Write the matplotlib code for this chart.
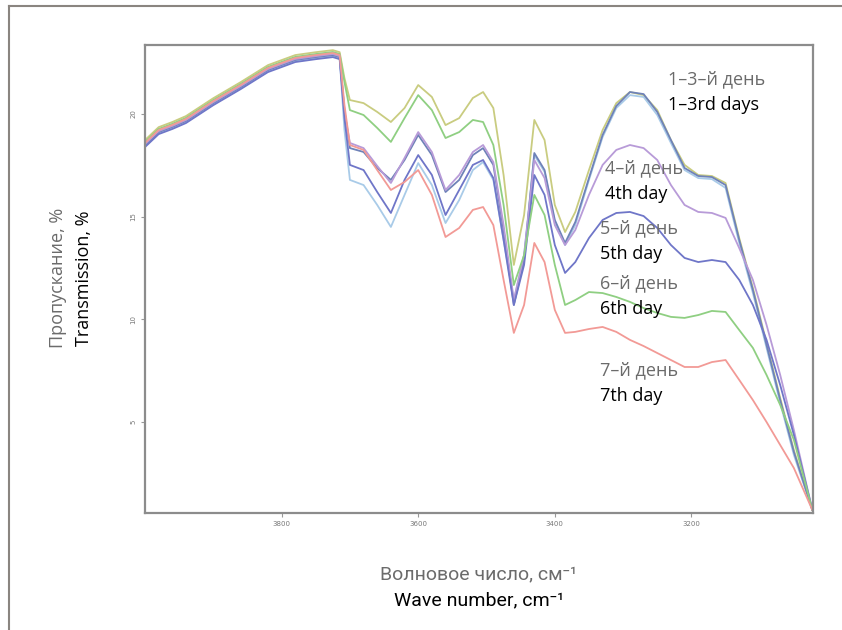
import matplotlib.pyplot as plt
from matplotlib.lines import Line2D

# wave number, cm-1
wavenumber = [4000, 3980, 3960, 3940, 3900, 3860, 3820, 3780, 3750, 3725, 3715, 3708,
              3700, 3680, 3660, 3640, 3620, 3600, 3580, 3560, 3540, 3520, 3505, 3490,
              3475, 3460, 3445, 3430, 3415, 3400, 3385, 3370, 3350, 3330, 3310, 3290,
              3270, 3250, 3230, 3210, 3190, 3170, 3150, 3130, 3110, 3090, 3070, 3050, 3023]

# transmission, %
day1 = [18.73, 19.36, 19.61, 19.90, 20.77, 21.55, 22.38, 22.87, 23.01, 23.11, 23.01,
        21.75, 20.68, 20.53, 20.10, 19.61, 20.29, 21.41, 20.83, 19.46, 19.80, 20.78, 21.07,
        20.29, 17.03, 12.65, 15.08, 19.71, 18.73, 15.57, 14.25, 15.23, 17.27, 19.22, 20.53,
        21.07, 20.92, 20.19, 18.73, 17.52, 17.03, 16.98, 16.64, 13.96, 11.53, 8.85, 6.17,
        3.64, 0.72]
day2 = [18.44, 19.07, 19.32, 19.61, 20.48, 21.26, 22.09, 22.58, 22.72, 22.82, 22.72,
        19.22, 16.79, 16.54, 15.57, 14.50, 16.06, 17.61, 16.54, 14.69, 15.81, 17.27, 17.66,
        16.79, 13.87, 10.94, 13.13, 18.00, 17.18, 14.74, 13.62, 14.59, 16.79, 18.88, 20.29,
        20.92, 20.83, 19.95, 18.59, 17.27, 16.88, 16.83, 16.40, 13.72, 11.28, 8.61, 5.93,
        3.40, 0.72]
day3 = [18.49, 19.12, 19.37, 19.66, 20.53, 21.31, 22.14, 22.63, 22.77, 22.87, 22.77,
        20.19, 18.34, 18.15, 17.37, 16.79, 17.76, 18.98, 18.00, 16.20, 16.79, 18.00, 18.34,
        17.52, 14.35, 10.70, 12.89, 18.10, 17.27, 14.84, 13.72, 14.74, 16.88, 18.98, 20.39,
        21.07, 20.97, 20.10, 18.73, 17.37, 16.98, 16.93, 16.54, 13.87, 11.43, 8.75, 6.07,
        3.54, 0.72]
day4 = [18.54, 19.17, 19.42, 19.71, 20.58, 21.36, 22.19, 22.68, 22.82, 22.92, 22.82,
        20.10, 18.59, 18.34, 17.47, 16.64, 17.86, 19.12, 18.15, 16.30, 17.03, 18.15, 18.49,
        17.66, 14.59, 10.94, 13.13, 17.76, 16.88, 14.59, 13.62, 14.35, 16.06, 17.52, 18.25,
        18.49, 18.34, 17.76, 16.54, 15.57, 15.23, 15.18, 14.94, 13.47, 11.92, 9.73, 7.29,
        4.61, 0.72]
day5 = [18.39, 19.02, 19.27, 19.56, 20.43, 21.21, 22.04, 22.53, 22.67, 22.77, 22.67,
        19.80, 17.52, 17.27, 16.20, 15.18, 16.79, 18.00, 17.03, 15.08, 16.30, 17.52, 17.76,
        16.88, 13.87, 10.70, 12.65, 17.03, 16.06, 13.62, 12.26, 12.79, 13.96, 14.84, 15.18,
        15.23, 15.03, 14.45, 13.62, 12.99, 12.79, 12.89, 12.79, 11.92, 10.70, 9.00, 6.80,
        4.37, 0.72]
day6 = [18.64, 19.27, 19.52, 19.81, 20.68, 21.46, 22.29, 22.78, 22.92, 23.02, 22.92,
        21.56, 20.19, 19.95, 19.32, 18.64, 19.80, 20.92, 20.19, 18.83, 19.12, 19.71, 19.61,
        18.49, 15.57, 11.67, 13.13, 16.06, 15.08, 12.65, 10.70, 10.94, 11.33, 11.28, 11.09,
        10.85, 10.55, 10.31, 10.12, 10.07, 10.21, 10.41, 10.36, 9.48, 8.61, 7.29, 5.83,
        4.13, 0.72]
day7 = [18.59, 19.22, 19.47, 19.76, 20.63, 21.41, 22.24, 22.73, 22.87, 22.97, 22.87,
        20.44, 18.49, 18.25, 17.27, 16.30, 16.69, 17.27, 16.06, 14.01, 14.45, 15.33, 15.47,
        14.59, 11.92, 9.34, 10.70, 13.72, 12.79, 10.46, 9.34, 9.39, 9.53, 9.63, 9.39,
        9.00, 8.70, 8.36, 8.02, 7.68, 7.68, 7.92, 8.02, 7.05, 6.07, 5.00, 3.88, 2.76, 0.72]

series = [day1, day2, day3, day4, day5, day6, day7]
colors = ['#c9cc80', '#a9cbe8', '#6f82b8', '#b89bd8', '#6f76c8', '#8fcf82', '#f29a96']

x_ticks = [3800, 3600, 3400, 3200]
y_ticks = [20, 15, 10, 5]

labels_ru = ['1–3–й день', '4–й день', '5–й день', '6–й день', '7–й день']
labels_en = ['1–3rd days', '4th day', '5th day', '6th day', '7th day']
label_pos = [(668, 79), (605, 168), (600, 228), (600, 283), (600, 370)]

W, H = 842, 630
fig = plt.figure(figsize=(W / 100, H / 100), dpi=100)
ax = fig.add_axes([145 / W, 1 - 513 / H, (813 - 145) / W, (513 - 45) / H])

for s, c in zip(series, colors):
    ax.plot(wavenumber, s, color=c, lw=1.3, solid_joinstyle='round')

ax.set_xlim(4000, 3022)
ax.set_ylim(0.57, 23.36)
ax.set_xticks(x_ticks)
ax.set_xticklabels([str(t) for t in x_ticks], fontsize=5, color='#777777')
ax.set_yticks(y_ticks)
ax.set_yticklabels([str(t) for t in y_ticks], fontsize=5, color='#777777', rotation=90, va='center')
ax.tick_params(length=3, width=0.8, color='#999999', pad=3)
for sp in ax.spines.values():
    sp.set_color('#8c8c8c')
    sp.set_linewidth(1.6)

# day labels
for (px, py), ru, en in zip(label_pos, labels_ru, labels_en):
    fig.text(px / W, 1 - py / H, ru, fontsize=13, color='#6b6b6b', family='Open Sans', va='center')
    fig.text(px / W, 1 - (py + 26) / H, en, fontsize=13, color='black', family='Open Sans', va='center')

# axis titles
fam = ['Roboto', 'DejaVu Sans']
fig.text(479 / W, 1 - 574 / H, 'Волновое число, см⁻¹', fontsize=14, color='#6b6b6b',
         family=fam, ha='center', va='center')
fig.text(479 / W, 1 - 600 / H, 'Wave number, cm⁻¹', fontsize=14, color='black',
         family=fam, ha='center', va='center')
fig.text(58 / W, 1 - 278 / H, 'Пропускание, %', fontsize=13, color='#6b6b6b',
         family='Open Sans', rotation=90, ha='center', va='center')
fig.text(84 / W, 1 - 278 / H, 'Transmission, %', fontsize=13, color='black',
         family='Open Sans', rotation=90, ha='center', va='center')

# outer frame (top and left)
fig.add_artist(Line2D([9 / W, 1], [1 - 6 / H, 1 - 6 / H], color='#8a8580', lw=1.5))
fig.add_artist(Line2D([9 / W, 9 / W], [0, 1 - 6 / H], color='#8a8580', lw=1.5))

fig.savefig('out.png', dpi=100)
